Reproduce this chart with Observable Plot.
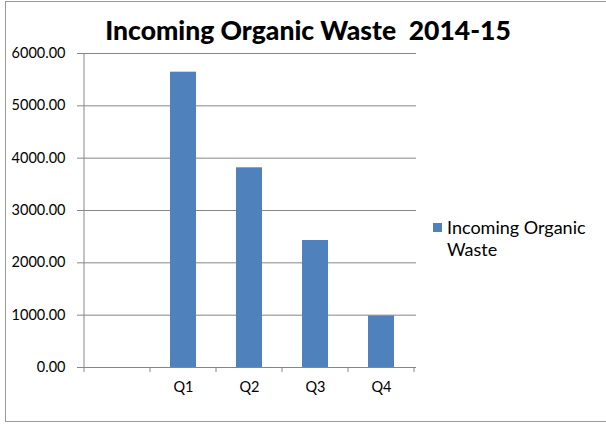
<!DOCTYPE html>
<html>
<head>
<meta charset="utf-8">
<script src="https://cdn.jsdelivr.net/npm/d3@7"></script>
<script src="https://cdn.jsdelivr.net/npm/@observablehq/plot@0.6"></script>
<style>
  html, body { margin: 0; padding: 0; background: #fff; }
  #wrap { position: relative; width: 606px; height: 425px; overflow: hidden; font-family: Lato, "Open Sans", sans-serif; }
  #frame { position: absolute; left: 5px; top: 1px; width: 640px; height: 421px; border: 1px solid #9a9a9a; box-sizing: border-box; }
  #title { position: absolute; left: 0; width: 616px; top: 14px; text-align: center; font-weight: 900; font-size: 26.5px; color: #000; white-space: pre; }
  #legend { position: absolute; left: 433px; top: 216px; font-size: 18px; line-height: 22px; color: #000; }
  #legend .sw { position: absolute; left: 0; top: 7px; width: 9px; height: 9px; background: #4F81BD; }
  #legend .tx { position: absolute; left: 14px; top: 0; width: 165px; }
  #chart { position: absolute; left: 0; top: 0; }
</style>
</head>
<body>
<div id="wrap">
  <div id="frame"></div>
  <div id="chart"></div>
  <div id="title"></div>
  <div id="legend"><div class="sw"></div><div class="tx"></div></div>
</div>
<script>
const titleText = "Incoming Organic Waste  2014-15";
const seriesName = "Incoming Organic Waste";
const categories = ["", "Q1", "Q2", "Q3", "Q4"];
const values = [null, 5643, 3816, 2427, 985];
const yTicks = [0, 1000, 2000, 3000, 4000, 5000, 6000];

const data = categories.map((c, i) => ({cat: c, value: values[i]})).filter(d => d.value != null);

document.getElementById("title").textContent = titleText;
document.querySelector("#legend .tx").textContent = seriesName;

const gray = "#868686";
const plot = Plot.plot({
  width: 606,
  height: 425,
  marginLeft: 82,
  marginRight: 190,
  marginTop: 53,
  marginBottom: 58,
  style: {fontFamily: "Lato, 'Open Sans', sans-serif", fontSize: "14.5px", color: "#000", background: "transparent"},
  x: {domain: categories, paddingInner: 0.6, paddingOuter: 0.3, label: null},
  y: {domain: [0, 6000], label: null},
  marks: [
    Plot.gridY(yTicks, {stroke: gray, strokeOpacity: 1}),
    Plot.barY(data, {x: "cat", y: "value", fill: "#4F81BD"}),
    Plot.ruleY([0], {stroke: gray}),
    Plot.axisY(yTicks, {tickSize: 5, tickPadding: 12, stroke: gray, tickFormat: d => d.toFixed(2), fill: "#000", fontSize: 14.5}),
    Plot.axisX({tickSize: 0, tickPadding: 14, fill: "#000", fontSize: 14.5})
  ]
});
document.getElementById("chart").appendChild(plot);

// axis line and category boundary ticks, from the plot's own scales
const xs = plot.scale("x"), ys = plot.scale("y");
const svg = d3.select(plot);
const half = (xs.step - xs.bandwidth) / 2;
const bounds = categories.map(c => xs.apply(c) - half);
bounds.push(xs.apply(categories[categories.length - 1]) + xs.bandwidth + half);
const y0 = ys.apply(0), yTop = ys.apply(6000);
const g = svg.append("g").attr("stroke", gray).attr("fill", "none");
g.append("line").attr("x1", bounds[0]).attr("x2", bounds[0]).attr("y1", yTop).attr("y2", y0);
g.selectAll("line.b").data(bounds).join("line").attr("class", "b")
  .attr("x1", d => d).attr("x2", d => d).attr("y1", y0).attr("y2", y0 + 5);
</script>
</body>
</html>
